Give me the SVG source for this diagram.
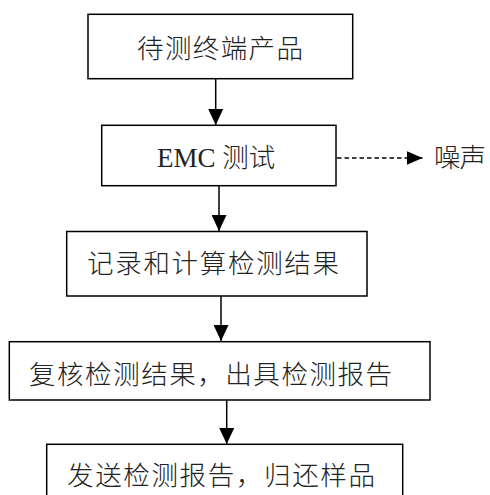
<svg xmlns="http://www.w3.org/2000/svg" width="490" height="495" viewBox="0 0 490 495">
<style>
.box{fill:#fff;stroke:#000;stroke-width:1.5}
.t{font-family:"Noto Sans CJK SC","Liberation Sans",sans-serif;font-size:26.5px;fill:#222;font-weight:300}
.e{font-family:"Liberation Serif","Noto Sans CJK SC",serif;font-size:27px;fill:#222}
.ln{stroke:#000;stroke-width:1.5;fill:none}
.dash{stroke:#000;stroke-width:1.5;fill:none;stroke-dasharray:4.5 3}
</style>
<defs>
<marker id="ah" markerWidth="16" markerHeight="15" refX="16" refY="7.5" orient="auto" markerUnits="userSpaceOnUse">
<path d="M0,0 L16,7.5 L0,15 Z" fill="#000"/>
</marker>
<marker id="ah2" markerWidth="16" markerHeight="14" refX="16" refY="7" orient="auto" markerUnits="userSpaceOnUse">
<path d="M0,0 L16,7 L0,14 Z" fill="#000"/>
</marker>
</defs>
<g id="connectors">
<line class="ln" x1="215.7" y1="79" x2="215.7" y2="125" marker-end="url(#ah)"/>
<line class="ln" x1="219" y1="186" x2="219" y2="231" marker-end="url(#ah)"/>
<line class="ln" x1="221" y1="296" x2="221" y2="341" marker-end="url(#ah)"/>
<line class="ln" x1="226.7" y1="400" x2="226.7" y2="444" marker-end="url(#ah)"/>
<line class="dash" x1="337" y1="158" x2="422.5" y2="158" marker-end="url(#ah2)"/>
</g>
<g id="n1">
<rect class="box" x="88" y="14.3" width="264.7" height="64.4"/>
<text class="t" x="137" y="57.5" textLength="166" lengthAdjust="spacing">待测终端产品</text>
</g>
<g id="n2">
<rect class="box" x="101.7" y="125.3" width="234.3" height="60.4"/>
<text x="157" y="166.5"><tspan class="e">EMC </tspan><tspan class="t">测试</tspan></text>
</g>
<g id="noise">
<text class="t" x="434" y="166.5" textLength="52" lengthAdjust="spacing">噪声</text>
</g>
<g id="n3">
<rect class="box" x="66.7" y="231.5" width="300.3" height="64.5"/>
<text class="t" x="87" y="272.5" textLength="252" lengthAdjust="spacing">记录和计算检测结果</text>
</g>
<g id="n4">
<rect class="box" x="9.3" y="341.7" width="420.7" height="58.3"/>
<text class="t" x="29" y="383.5" textLength="363" lengthAdjust="spacing">复核检测结果，出具检测报告</text>
</g>
<g id="n5">
<rect class="box" x="46.7" y="444.3" width="356" height="60"/>
<text class="t" x="67" y="484.5" textLength="308" lengthAdjust="spacing">发送检测报告，归还样品</text>
</g>
</svg>
